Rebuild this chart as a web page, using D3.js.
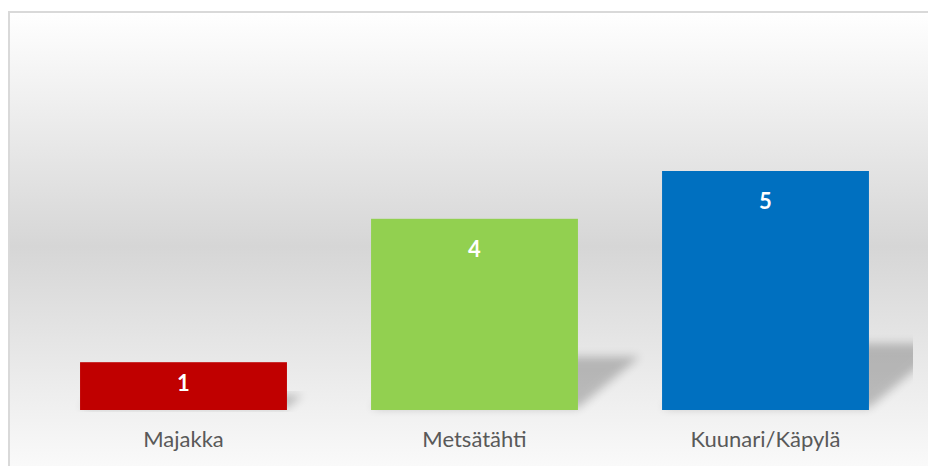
<!DOCTYPE html>
<html lang="en">
<head>
    <meta charset="utf-8">
    <script src="https://d3js.org/d3.v7.min.js"></script>
    <style>
        body { margin: 0; background: #fff; }
        svg { display: block; }
    </style>
</head>
<body>
<script type="text/javascript">

    // chart data
    var categories = ["Majakka", "Metsätähti", "Kuunari/Käpylä"];
    var values = [1, 4, 5];
    var barColors = ["#c00000", "#92d050", "#0070c0"];

    var width = 928, height = 466;

    var svg = d3.select("body")
        .append("svg")
        .attr("width", width)
        .attr("height", height);

    var defs = svg.append("defs");

    // gray band in the middle of the chart area
    var grad = defs.append("linearGradient")
        .attr("id", "bg")
        .attr("x1", 0).attr("y1", 0)
        .attr("x2", 0).attr("y2", 1);
    grad.append("stop").attr("offset", "0%").attr("stop-color", "#ffffff");
    grad.append("stop").attr("offset", "50%").attr("stop-color", "#d6d6d6");
    grad.append("stop").attr("offset", "100%").attr("stop-color", "#fcfcfc");

    var blur = defs.append("filter")
        .attr("id", "blur")
        .attr("x", "-30%").attr("y", "-30%")
        .attr("width", "160%").attr("height", "160%");
    blur.append("feGaussianBlur").attr("stdDeviation", 5);

    defs.append("clipPath")
        .attr("id", "clip")
        .append("rect")
        .attr("x", 10).attr("y", 12)
        .attr("width", 903).attr("height", 440);

    // chart area with border (right and bottom run off the page)
    svg.append("rect")
        .attr("x", 9)
        .attr("y", 12)
        .attr("width", 960)
        .attr("height", 470)
        .attr("fill", "url(#bg)")
        .attr("stroke", "#d9d9d9")
        .attr("stroke-width", 2);

    var x = d3.scaleBand()
        .domain(categories)
        .range([38, 911])
        .paddingInner(0.289)
        .paddingOuter(0.1445);

    var y = d3.scaleLinear()
        .domain([0, 5])
        .range([410, 171]);

    var data = categories.map(function(c, i) {
        return { name: c, value: values[i], color: barColors[i] };
    });

    // perspective shadows behind the bars
    svg.append("g")
        .attr("clip-path", "url(#clip)")
        .selectAll("path")
        .data(data)
        .enter()
        .append("path")
        .attr("d", function(d) {
            var x0 = x(d.name), x1 = x0 + x.bandwidth();
            var y0 = y(0) - 2;
            var h = (y(0) - y(d.value)) * 0.27;
            var dx = h * 1.2;
            return "M" + x0 + "," + y0 + "L" + x1 + "," + y0 +
                "L" + (x1 + dx) + "," + (y0 - h) + "L" + (x0 + dx) + "," + (y0 - h) + "Z";
        })
        .attr("fill", "#000")
        .attr("opacity", 0.22)
        .attr("filter", "url(#blur)");

    // bars
    svg.append("g")
        .selectAll("rect")
        .data(data)
        .enter()
        .append("rect")
        .attr("x", function(d) { return x(d.name); })
        .attr("y", function(d) { return y(d.value); })
        .attr("width", x.bandwidth())
        .attr("height", function(d) { return y(0) - y(d.value); })
        .attr("fill", function(d) { return d.color; });

    // value labels inside the bar top
    svg.append("g")
        .selectAll("text")
        .data(data)
        .enter()
        .append("text")
        .attr("x", function(d) { return x(d.name) + x.bandwidth() / 2; })
        .attr("y", function(d) {
            var h = y(0) - y(d.value);
            return y(d.value) + Math.min(30, h / 2 - 3);
        })
        .attr("dy", "0.35em")
        .attr("text-anchor", "middle")
        .attr("fill", "#fff")
        .style("font-family", "Lato, 'Open Sans', sans-serif")
        .style("font-weight", "bold")
        .style("font-size", "22px")
        .text(function(d) { return d.value; });

    // category axis, no line or ticks
    var xAxis = svg.append("g")
        .attr("transform", "translate(0," + y(0) + ")")
        .call(d3.axisBottom(x).tickSize(0).tickPadding(21));
    xAxis.select(".domain").remove();
    xAxis.selectAll("text")
        .attr("fill", "#595959")
        .style("font-family", "Lato, 'Open Sans', sans-serif")
        .style("font-size", "22px");

</script>
</body>
</html>
